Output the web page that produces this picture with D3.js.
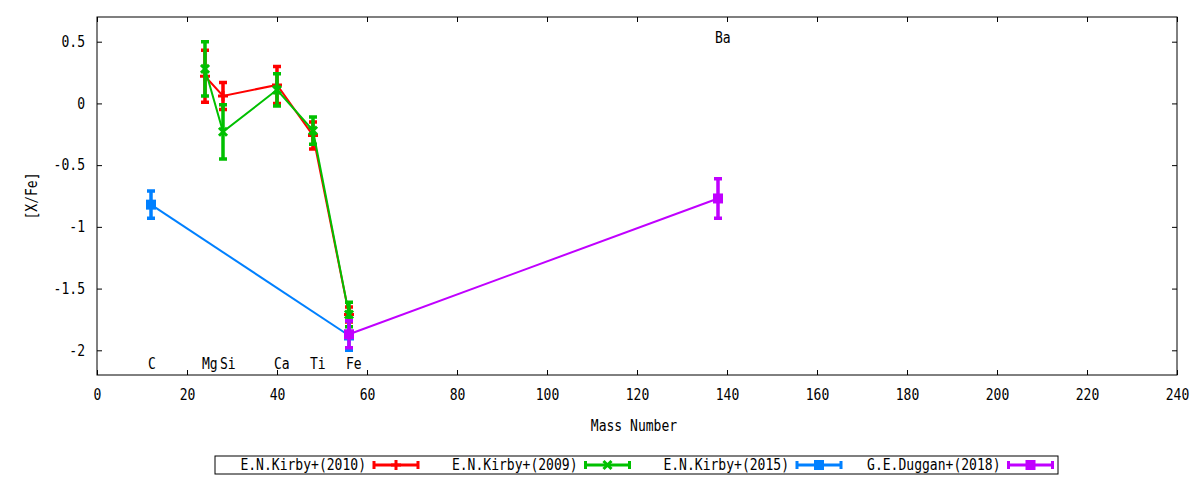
<!DOCTYPE html>
<html>
<head>
<meta charset="UTF-8">
<title>[X/Fe] vs Mass Number</title>
<script src="https://d3js.org/d3.v7.min.js"></script>
<style>
  body { margin: 0; background: #fff; }
  svg { display: block; }
  text { font-family: "DejaVu Sans Mono", monospace; font-size: 15px; fill: #000; }
</style>
</head>
<body>
<svg></svg>
<script>

// series data: mass number, [X/Fe], error
const kirby2010A = [24, 28, 40, 48, 56];
const kirby2010Val = [0.22, 0.06, 0.15, -0.26, -1.71];
const kirby2010Err = [0.21, 0.11, 0.15, 0.11, 0.06];

const kirby2009A = [24, 28, 40, 48, 56];
const kirby2009Val = [0.28, -0.23, 0.11, -0.22, -1.71];
const kirby2009Err = [0.22, 0.22, 0.13, 0.11, 0.10];

const kirby2015A = [12, 56];
const kirby2015Val = [-0.82, -1.88];
const kirby2015Err = [0.11, 0.12];

const duggan2018A = [56, 138];
const duggan2018Val = [-1.87, -0.77];
const duggan2018Err = [0.11, 0.16];

// element labels
const elemNames = ["C", "Mg", "Si", "Ca", "Ti", "Fe", "Ba"];
const elemA = [12, 24, 28, 40, 48, 56, 138];
const elemY = [-2.11, -2.11, -2.11, -2.11, -2.11, -2.11, 0.53];

const xTicks = [0, 20, 40, 60, 80, 100, 120, 140, 160, 180, 200, 220, 240];
const yTicks = [-2, -1.5, -1, -0.5, 0, 0.5];

const seriesNames = ["E.N.Kirby+(2010)", "E.N.Kirby+(2009)", "E.N.Kirby+(2015)", "G.E.Duggan+(2018)"];
const seriesColors = ["#ff0000", "#00c000", "#0080ff", "#c000ff"];
const seriesMarks = ["plus", "cross", "square", "square"];

let width = 1200, height = 480;
let mLeft = 97, mRight = 1177, mTop = 17, mBottom = 375;
let charW = 7.85; // narrow monospace look

let svg = d3.select("svg").attr("width", width).attr("height", height);

let x = d3.scaleLinear().domain([0, 240]).range([mLeft, mRight]);
let y = d3.scaleLinear().domain([-2.2, 0.7]).range([mBottom, mTop]);

// squeeze glyphs so text keeps the reference width
function squeeze(sel) {
  sel.each(function() {
    let t = d3.select(this);
    let n = t.text().length;
    if (n > 0) t.attr("textLength", n * charW).attr("lengthAdjust", "spacingAndGlyphs");
  });
}

// axes (ticks point inward, mirrored)
svg.append("g")
    .attr("transform", `translate(0,${mBottom})`)
    .call(d3.axisBottom(x).tickValues(xTicks).tickSize(-5).tickPadding(14).tickFormat(d3.format("d")));
svg.append("g")
    .attr("transform", `translate(0,${mTop})`)
    .call(d3.axisTop(x).tickValues(xTicks).tickSize(-5).tickFormat(""));
svg.append("g")
    .attr("transform", `translate(${mLeft},0)`)
    .call(d3.axisLeft(y).tickValues(yTicks).tickSize(-5).tickPadding(12).tickFormat(d => String(d)));
svg.append("g")
    .attr("transform", `translate(${mRight},0)`)
    .call(d3.axisRight(y).tickValues(yTicks).tickSize(-5).tickFormat(""));

svg.selectAll(".domain").remove();
svg.selectAll(".tick line").attr("stroke", "#000");
svg.selectAll(".tick text").attr("font-family", "DejaVu Sans Mono").attr("font-size", 15).attr("fill", "#000");

svg.append("rect")
    .attr("x", mLeft).attr("y", mTop)
    .attr("width", mRight - mLeft).attr("height", mBottom - mTop)
    .attr("fill", "none").attr("stroke", "#000").attr("stroke-width", 1);

// axis titles
svg.append("text")
    .attr("x", 634).attr("y", 431)
    .attr("text-anchor", "middle")
    .text("Mass Number");
svg.append("text")
    .attr("transform", "translate(37,196) rotate(-90)")
    .attr("text-anchor", "middle")
    .text("[X/Fe]");

// markers
function drawMark(g, kind, cx, cy, color) {
  if (kind == "square") {
    g.append("rect").attr("x", cx - 5).attr("y", cy - 5).attr("width", 10).attr("height", 10).attr("fill", color);
  } else if (kind == "plus") {
    g.append("path").attr("d", `M${cx - 5},${cy}H${cx + 5}M${cx},${cy - 5}V${cy + 5}`)
      .attr("stroke", color).attr("stroke-width", 3).attr("fill", "none");
  } else {
    g.append("path").attr("d", `M${cx - 4},${cy - 4}L${cx + 4},${cy + 4}M${cx - 4},${cy + 4}L${cx + 4},${cy - 4}`)
      .attr("stroke", color).attr("stroke-width", 3).attr("fill", "none");
  }
}

let allSeries = [
  [kirby2010A, kirby2010Val, kirby2010Err],
  [kirby2009A, kirby2009Val, kirby2009Err],
  [kirby2015A, kirby2015Val, kirby2015Err],
  [duggan2018A, duggan2018Val, duggan2018Err]
];

let line = d3.line().x(d => x(d.a)).y(d => y(d.v));

allSeries.forEach((s, i) => {
  let pts = s[0].map((a, j) => ({a: a, v: s[1][j], e: s[2][j]}));
  let color = seriesColors[i];
  let g = svg.append("g");

  g.append("path")
    .datum(pts)
    .attr("d", line)
    .attr("fill", "none")
    .attr("stroke", color)
    .attr("stroke-width", 2);

  pts.forEach(p => {
    let px = x(p.a), y0 = y(p.v + p.e), y1 = y(p.v - p.e);
    g.append("path")
      .attr("d", `M${px},${y0}V${y1}M${px - 4},${y0}H${px + 4}M${px - 4},${y1}H${px + 4}`)
      .attr("stroke", color).attr("stroke-width", 3.5).attr("fill", "none");
    drawMark(g, seriesMarks[i], px, y(p.v), color);
  });
});

// element labels
elemNames.forEach((n, i) => {
  svg.append("text")
    .attr("x", x(elemA[i]) - 3)
    .attr("y", y(elemY[i]))
    .attr("dy", "0.35em")
    .text(n);
});

// legend
let lg = svg.append("g");
lg.append("rect")
  .attr("x", 215).attr("y", 456).attr("width", 843).attr("height", 18)
  .attr("fill", "#fff").attr("stroke", "#000").attr("stroke-width", 1);

seriesNames.forEach((n, i) => {
  let sx = 374 + i * 211.5, ly = 465;
  lg.append("text")
    .attr("x", sx - 8).attr("y", ly).attr("dy", "0.35em")
    .attr("text-anchor", "end")
    .text(n);
  let color = seriesColors[i];
  lg.append("path")
    .attr("d", `M${sx},${ly}H${sx + 44}M${sx},${ly - 4}V${ly + 4}M${sx + 44},${ly - 4}V${ly + 4}`)
    .attr("stroke", color).attr("stroke-width", 3).attr("fill", "none");
  drawMark(lg, seriesMarks[i], sx + 22, ly, color);
});

svg.selectAll("text").call(squeeze);

</script>
</body>
</html>
